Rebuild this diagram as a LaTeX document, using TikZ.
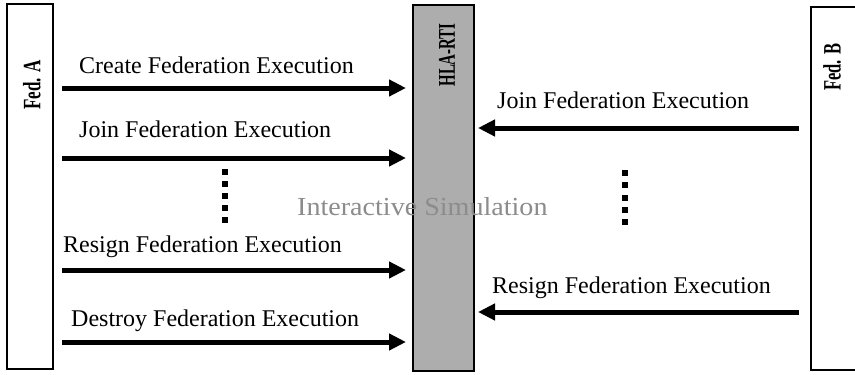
\documentclass[tikz,border=0pt]{standalone}
\usepackage{fontspec}
\setmainfont{Liberation Serif}
\usetikzlibrary{arrows.meta}
\begin{document}
\begin{tikzpicture}[x=1pt,y=-1pt,
  fedbox/.style={draw=black,line width=2.2pt},
  rtibox/.style={draw=black,line width=2.6pt,fill=black!32},
  msg/.style={line width=5pt,-{Triangle[length=17pt,width=16pt]}},
  lbl/.style={font=\fontsize{24}{28}\selectfont,anchor=base west,inner sep=0pt},
  vlbl/.style={font=\bfseries\fontsize{25}{30}\selectfont,rotate=90,inner sep=0pt}]
\useasboundingbox (0,0) rectangle (855,375);

% federates and the RTI
\draw[fedbox] (7,4) rectangle (53,369);
\node[vlbl] (feda) at (32,85) {\scalebox{0.68}[1]{Fed. A}};
\begin{scope}
  \clip (0,0) rectangle (855,375);
  \draw[fedbox] (811,7) rectangle (870,370);
\end{scope}
\node[vlbl] (fedb) at (832,67) {\scalebox{0.66}[1]{Fed. B}};
\draw[rtibox] (413,5) rectangle (474,371);
\node[vlbl,font=\bfseries\fontsize{24}{29}\selectfont] (rti) at (447,55) {\scalebox{0.62}[1]{HLA-RTI}};

% end points of the service calls
\coordinate (a1s) at (62,88);  \coordinate (a1e) at (406,88);
\coordinate (a2s) at (62,158); \coordinate (a2e) at (406,158);
\coordinate (a3s) at (62,270); \coordinate (a3e) at (406,270);
\coordinate (a4s) at (62,342); \coordinate (a4e) at (406,342);
\coordinate (b1s) at (799,128); \coordinate (b1e) at (478,128);
\coordinate (b2s) at (799,312); \coordinate (b2e) at (478,312);

% Fed. A calls
\draw[msg] (a1s) -- (a1e);
\draw[msg] (a2s) -- (a2e);
\draw[msg] (a3s) -- (a3e);
\draw[msg] (a4s) -- (a4e);
\node[lbl] (l1) at (79,73) {Create Federation Execution};
\node[lbl] (l2) at (79,137) {Join Federation Execution};
\node[lbl] (l3) at (63,252) {Resign Federation Execution};
\node[lbl] (l4) at (71,326) {Destroy Federation Execution};

% Fed. B calls
\draw[msg] (b1s) -- (b1e);
\draw[msg] (b2s) -- (b2e);
\node[lbl] (r1) at (497,108) {Join Federation Execution};
\node[lbl] (r2) at (492,293) {Resign Federation Execution};

% elided steps
\tikzset{dotsq/.style={fill=black,minimum size=6pt,inner sep=0pt}}
\foreach \y [count=\i] in {172,184,196,208,220}
  \node[dotsq] (da\i) at (225,\y) {};
\foreach \y [count=\i] in {173,185,198,210,222}
  \node[dotsq] (db\i) at (625,\y) {};

% overlay caption
\node[anchor=base west,inner sep=0pt,text=black!45,xscale=1.08,
      font=\fontsize{26}{30}\selectfont] (sim) at (297,215) {Interactive Simulation};
\end{tikzpicture}
\end{document}
